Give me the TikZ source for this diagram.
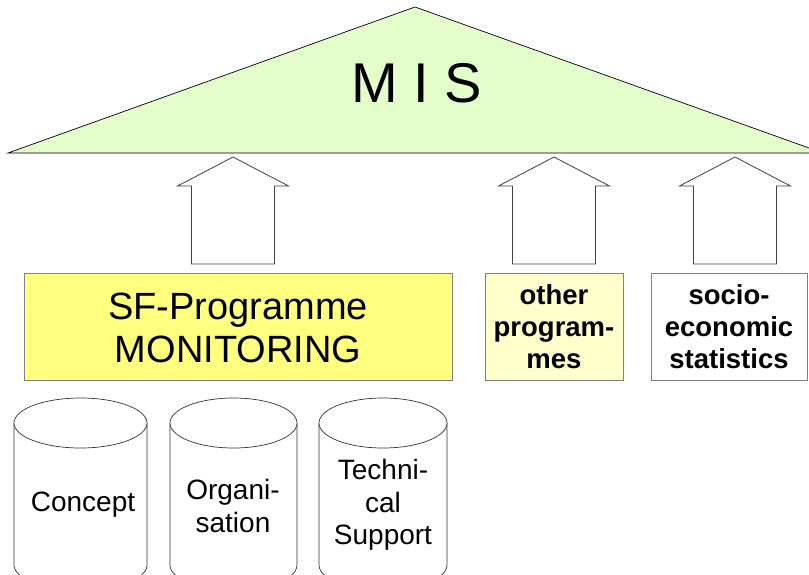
\documentclass[tikz,border=0pt]{standalone}
\usepackage{fontspec}
\setmainfont{Liberation Sans}
\definecolor{misgreen}{HTML}{E3FDCB}
\definecolor{sfyellow}{HTML}{FFFF80}
\definecolor{lightyellow}{HTML}{FFFFCC}
\definecolor{boxgray}{HTML}{808080}
\begin{document}
\begin{tikzpicture}[x=1pt,y=-1pt,
  blockarrow/.style={draw=black!75, fill=white, line width=0.8pt, line join=miter},
  infobox/.style={draw=boxgray, line width=1pt},
  cyl/.style={draw=black!80, fill=white, line width=0.7pt},
  txt/.style={inner sep=0pt, align=center}]
\useasboundingbox (0,0) rectangle (809,574);
% MIS roof
\draw[fill=misgreen, line width=0.7pt] (8,153) -- (415,7) -- (823,153) -- cycle;
\node[txt, font=\fontsize{56}{60}\selectfont] (mis) at (417,83) {M I S};
% block arrows
\foreach \c/\n in {233/a1, 554/a2, 735/a3}{
  \draw[blockarrow] (\c-41.5,264) -- (\c-41.5,186) -- (\c-55.5,186) -- (\c,157)
    -- (\c+55.5,186) -- (\c+41.5,186) -- (\c+41.5,264) -- cycle;
}
% boxes
\draw[infobox, fill=sfyellow] (24,273) rectangle (452,380);
\node[txt, font=\fontsize{38}{43}\selectfont] (sf) at (238,328) {SF-Programme\\MONITORING};
\draw[infobox, fill=lightyellow] (485,273) rectangle (623,380);
\node[txt, font=\fontsize{27.5}{32}\selectfont\bfseries] (other) at (554,327) {other\\program-\\mes};
\draw[infobox, fill=white] (651,273) rectangle (807,380);
\node[txt, font=\fontsize{27.5}{32}\selectfont\bfseries] (socio) at (729,327) {socio-\\economic\\statistics};
% cylinders
\foreach \l/\r in {14/147, 170/297, 319/447}{
  \pgfmathsetmacro{\rx}{(\r-\l)/2}
  \pgfmathsetmacro{\cx}{(\r+\l)/2}
  \draw[cyl] (\l,423) -- (\l,565) arc[start angle=180, end angle=0, x radius=\rx, y radius=25] -- (\r,423);
  \draw[cyl] (\cx,423) ellipse[x radius=\rx, y radius=25];
}
\node[txt, font=\fontsize{28}{32.5}\selectfont] (concept) at (83,505) {Concept};
\node[txt, font=\fontsize{28}{32.5}\selectfont] (orga) at (233,506) {Organi-\\sation};
\node[txt, font=\fontsize{28}{32.5}\selectfont] (tech) at (383,505) {Techni-\\cal\\Support};
\end{tikzpicture}
\end{document}
